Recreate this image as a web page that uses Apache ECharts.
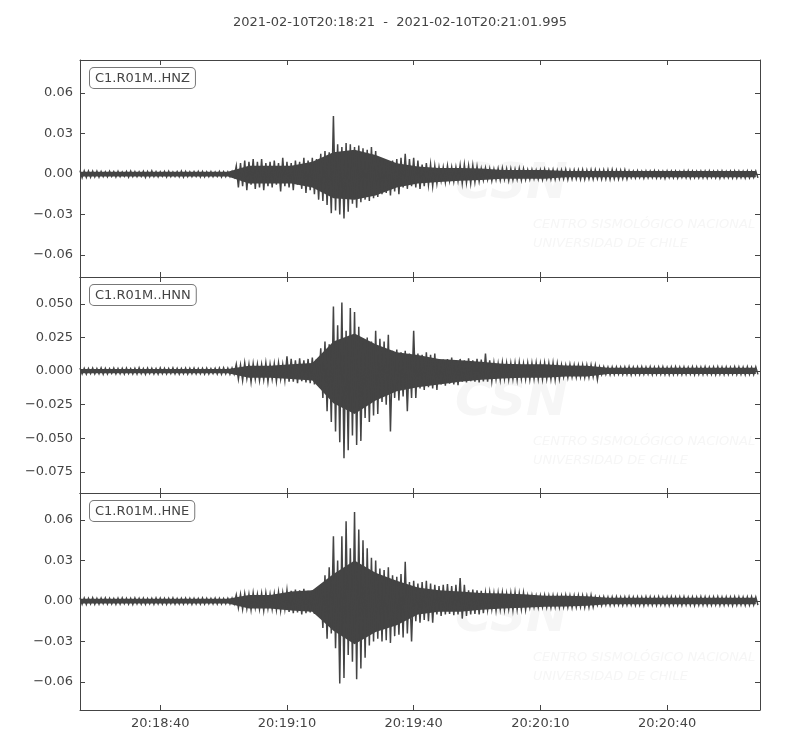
<!DOCTYPE html>
<html>
<head>
<meta charset="utf-8">
<script src="https://cdn.jsdelivr.net/npm/echarts@6/dist/echarts.min.js"></script>
<style>
  html, body { margin: 0; padding: 0; background: #fff; }
  #chart { width: 800px; height: 750px; }
</style>
</head>
<body>
<div id="chart"></div>
<script>
// trace start 20:18:21; peak envelope one sample per second, dense core every 5 s
// all amplitudes in units of 1e-3
var START_LABEL = "2021-02-10T20:18:21";
var END_LABEL = "2021-02-10T20:21:01.995";
var START_SEC = 20 * 3600 + 18 * 60 + 21;
var DURATION = 160.995;

var channels = ["C1.R01M..HNZ", "C1.R01M..HNN", "C1.R01M..HNE"];
var xTickSeconds = [19, 49, 79, 109, 139];

var yTicksZ = [-0.06, -0.03, 0, 0.03, 0.06];
var yTicksN = [-0.075, -0.05, -0.025, 0, 0.025, 0.05];
var yTicksE = [-0.06, -0.03, 0, 0.03, 0.06];
var yRangeZ = [-0.0763, 0.0844];
var yRangeN = [-0.0908, 0.070];
var yRangeE = [-0.0807, 0.080];

var upperZ = [2.5,2.3,2.2,2.0,2.0,
  1.8,1.6,2.0,1.7,1.9,1.5,1.8,2.1,1.7,1.6,1.9,1.8,2.2,1.7,1.6,1.8,1.9,1.5,1.7,2.0,1.8,1.6,1.7,1.9,1.8,1.6,1.7,1.5,1.8,1.7,1.6,1.9,
  6, 8,10,9,11,9, 11,8,9,10,8,12,9,8,10,9, 12,10,12,11, 15,17,16, 43, 22,20,23, 22,20,21, 19,18,20,17,
  10,11,9,10,11, 12,15,11,12,10, 7,8,7,6, 5,5,6,5,5, 6.5,7,6,6.5,5.5,
  4,4.5,4,3.5,4,4.5,3.8,4,3.5,4.2,3.8,
  3,3.2,2.8,3,3.4,2.9,3.1,2.8,3,3.3,2.7,3,2.9,3.2,2.8,3,3.1,2.7,2.9,3,3.2,2.8,2.7,3,
  2.2,2,2.3,1.9,2.1,2,2.4,2,1.9,2.2,2.1,2,1.8,2.2,2.3,2,1.9,2.1,2,2.2,1.9,2,2.1,1.8,2,2.2,2,1.9,2.1,2,2.1];
var lowerZ = [-2.8,-2.5,-2.4,-2.2,-2.3,
  -1.9,-2.1,-1.8,-2.2,-2.0,-1.7,-2.3,-1.9,-2.0,-1.8,-2.4,-2.0,-1.9,-2.1,-1.7,-2.2,-2.0,-1.8,-2.1,-2.3,-1.9,-2.0,-1.8,-2.2,-2.1,-1.9,-2.0,-1.8,-2.2,-2.0,-1.9,-2.1,
  -10, -9,-12,-8,-11,-10, -12,-9,-10,-8,-13,-9,-10,-12,-8,-11, -14,-12,-15,-19, -20,-23,-29, -27, -30,-33,-28, -22,-25,-21, -19,-20,-18,-17,
  -15,-14,-16,-13,-15, -10,-11,-9,-10,-11, -9,-8,-9,-7, -5,-6,-5,-5.5,-5, -7,-6.5,-7,-6,-5.5,
  -4.5,-4,-5,-4.2,-4.5,-4,-4.8,-4.3,-4,-4.5,-4.2,
  -4,-3.6,-3.8,-4.2,-3.5,-3.9,-4,-3.6,-3.7,-4.1,-3.8,-3.5,-3.9,-4,-3.6,-3.8,-3.5,-3.9,-3.7,-4,-3.6,-3.8,-3.4,-3.7,
  -2.8,-3,-2.7,-3.1,-2.9,-2.6,-3,-2.8,-3.2,-2.7,-2.9,-3,-2.6,-2.8,-3.1,-2.7,-2.9,-2.8,-3,-2.6,-2.9,-3.1,-2.7,-2.8,-3,-2.9,-2.7,-3,-2.8,-2.6,-2.9];

var upperN = [2.2,2,1.8,2.1,1.9,2.3,2,1.7,2.1,1.9,2,2.2,1.8,2,2.4,1.9,2.1,2,1.8,2.2,2,1.9,2.3,2,1.8,2.1,2,2.2,1.9,2,2.1,1.8,2,2.2,2.4,2.1,2.3,
  5,4.5,6,5,5.5,5,4.8,6,5,5.5,6,5, 11, 9,8,9.5,8,9,10,9, 17, 22,20, 48, 34, 51, 30, 47, 44, 33, 24,25,22, 30, 24,22, 27,
  15,16,14,15,13, 30, 13,12,14,12,13, 9,8.5,9,10,8, 9,8,9.5,8,9,8.5,13,8,
  6,5.5,6.5,6,5.8,6,6.5,5.5,6,5.8,6.2,5.5,6,5.7,6,5.5,
  4.5,4.2,4.8,4.5,4.3,4.6,4.4,4.5,4.2,
  3,3.2,2.8,3,3.1,2.9,3,3.3,2.8,3,3.1,2.9,3.2,2.8,3,3.1,2.7,3,3.2,2.9,3,2.8,3.1,3,2.9,3.2,2.8,3,3.1,2.9,3,2.8,3.2,3,2.9,3.1,2.8,3];
var lowerN = [-2.1,-2.3,-1.9,-2.2,-2,-2.4,-2.1,-1.8,-2.2,-2,-2.3,-1.9,-2.1,-2.2,-2,-2.4,-1.9,-2.1,-2.3,-2,-2.2,-1.8,-2.1,-2.3,-2,-2.2,-1.9,-2.1,-2,-2.3,-2.1,-1.9,-2.2,-2.4,-2.1,-2.3,-2.2,
  -6,-7,-5.5,-8,-6,-7,-6.5,-8,-6,-7.5,-6,-7, -8, -8,-9,-7.5,-8.5,-9,-10,-11, -20, -30,-38, -45, -53, -65, -59, -48, -55, -52, -35,-38,-33, -32, -23,-25, -45,
  -20,-22,-19,-30,-20, -20, -13,-14,-12,-13,-14, -10,-11,-9.5,-10,-10.5, -8,-8.5,-7.5,-8,-8.5,-7.8,-8,-7.5,
  -6,-6.5,-5.8,-6.2,-6,-6.5,-5.7,-6,-6.3,-5.8,-6,-6.2,-5.8,-6,-6.5,-5.9,
  -4.5,-4.8,-4.3,-4.6,-4.4,-4.7,-4.5,-4.3,-6.5,
  -2.6,-2.4,-2.7,-2.5,-2.3,-2.6,-2.5,-2.8,-2.4,-2.6,-2.5,-2.3,-2.7,-2.5,-2.4,-2.6,-2.8,-2.5,-2.4,-2.6,-2.5,-2.3,-2.7,-2.5,-2.6,-2.4,-2.5,-2.7,-2.4,-2.6,-2.5,-2.3,-2.6,-2.5,-2.7,-2.4,-2.6,-2.5];

var upperE = [2.4,2.2,2,2.3,1.9,2.1,2.2,2,1.8,2.1,2.3,2,1.9,2.2,2,2.1,1.8,2,2.3,2.1,1.9,2,2.2,1.8,2,2.1,1.9,2,1.8,2.2,2,1.9,2.1,2,1.8,2,2.1,
  4.5,5,5.5,5,6,5,5.5,6,5,5.5,6.5,6, 8,7.5,8.5,8,9,7.5,8,9, 12,19, 25, 48, 30, 48, 59, 39, 66, 53, 45, 39, 32,30, 24,23,25, 19,18,20, 29,
  14,15,13,14,15,13, 12,11,12,12.5,11,12, 17,12, 8,8.5,8,7.5,
  6,6.5,5.8,6,6.2,5.5,6,6.5,5.8,6,
  4,4.2,3.8,4,4.3,3.9,4.1,4,3.8,4.2,4,3.9,4.1,4,3.8,4.2,
  3,2.8,3.1,2.9,3,3.2,2.8,3,3.1,2.9,3,2.8,3.2,3,2.9,3.1,2.8,3,3.1,2.9,3,3.2,2.8,3,2.9,3.1,3,2.8,3,3.1,2.9,3,2.8,3.1,3,2.9,3,3.1,2.9];
var lowerE = [-2.3,-2.5,-2.1,-2.4,-2.2,-2,-2.3,-2.1,-2.4,-2.2,-2,-2.3,-2.5,-2.1,-2.2,-2.4,-2,-2.3,-2.1,-2.2,-2.4,-2,-2.3,-2.1,-2.2,-2,-2.4,-2.1,-2.3,-2.2,-2,-2.1,-2.3,-2.2,-2,-2.1,-2.2,
  -5,-6,-5.5,-6.5,-5,-6,-7,-5.5,-6,-6.5,-7,-6, -8,-9,-8.5,-10,-9,-8.5,-9.5,-9, -20,-28, -24, -35, -61, -57, -40, -45, -58, -50, -42, -33, -30,-28, -30,-29,-31, -26,-25,-27, -24,
  -30,-15,-16,-14,-15,-16, -10,-11,-10,-9.5,-10.5,-10, -13,-11, -10,-9.5,-10,-9,
  -6.5,-6,-7,-6.2,-6.5,-6,-6.8,-6.3,-6,-6.5,
  -4.7,-4.5,-4.8,-4.4,-4.6,-4.9,-4.5,-4.7,-4.4,-4.6,-4.8,-4.5,-4.3,-4.6,-4.7,-4.4,
  -3,-3.2,-2.9,-3.1,-3,-2.8,-3.2,-3,-2.9,-3.1,-3,-3.2,-2.8,-3,-3.1,-2.9,-3,-3.2,-2.9,-3,-3.1,-2.8,-3,-3.2,-3,-2.9,-3.1,-3,-2.8,-3.1,-3,-2.9,-3.2,-3,-2.9,-3.1,-3,-2.8,-3];

// solid core of the trace, every 5 s from t = 0 to 160
var coreUpZ = [1.6,1.6,1.6,1.6,1.6,1.6,1.6,1.6, 6,6,6,9,16,18,14,8,5.5,4.5,4.5,4,3,3,3, 2.2,2.2,2.2,2.2,2.2,2.2,2.2,2.2,2.2,2.2];
var coreLoZ = [-1.9,-1.9,-1.9,-1.9,-1.9,-1.9,-1.9,-1.9, -7,-7,-7,-10,-18,-19,-16,-10,-7,-6,-5,-4.5,-3.5,-3.5,-3.5, -2.5,-2.5,-2.5,-2.5,-2.5,-2.5,-2.5,-2.5,-2.5,-2.5];
var coreUpN = [1.6,1.6,1.6,1.6,1.6,1.6,1.6,1.6, 4,4,5,6,22,28,20,14,12,9,8,7,5.5,5,5,4.2,4, 2.5,2.5,2.5,2.5,2.5,2.5,2.5,2.5];
var coreLoN = [-1.7,-1.7,-1.7,-1.7,-1.7,-1.7,-1.7,-1.7, -5,-5,-6,-7,-24,-32,-22,-15,-12,-10,-8,-6.5,-5.5,-5,-5,-4,-4, -2.2,-2.2,-2.2,-2.2,-2.2,-2.2,-2.2,-2.2];
var coreUpE = [1.7,1.7,1.7,1.7,1.7,1.7,1.7,1.7, 4.5,4.5,7,8,20,30,21,15,10,8,7,6,5.5,5,4,4,3.5, 2.5,2.5,2.5,2.5,2.5,2.5,2.5,2.5];
var coreLoE = [-1.9,-1.9,-1.9,-1.9,-1.9,-1.9,-1.9,-1.9, -5.5,-5.5,-7,-8,-22,-32,-23,-18,-10,-8,-8,-6.5,-5.5,-5,-4.2,-4,-3.5, -2.4,-2.4,-2.4,-2.4,-2.4,-2.4,-2.4,-2.4];

var panels = [
  { name: channels[0], up: upperZ, lo: lowerZ, cu: coreUpZ, cl: coreLoZ, ticks: yTicksZ, range: yRangeZ, dec: 2 },
  { name: channels[1], up: upperN, lo: lowerN, cu: coreUpN, cl: coreLoN, ticks: yTicksN, range: yRangeN, dec: 3 },
  { name: channels[2], up: upperE, lo: lowerE, cu: coreUpE, cl: coreLoE, ticks: yTicksE, range: yRangeE, dec: 2 }
];

var FONT = "DejaVu Sans";
var INK = "#444";
var WATER = "#f6f6f6";
var gridTops = [60, 277, 493];
var gridHeights = [217, 216, 217];

function pad(n) { return (n < 10 ? "0" : "") + n; }
function timeLabel(v) {
  var s = Math.round(START_SEC + v);
  return pad(Math.floor(s / 3600)) + ":" + pad(Math.floor(s / 60) % 60) + ":" + pad(s % 60);
}
function yLabel(dec) {
  return function (v) { return v.toFixed(dec).replace("-", "\u2212"); };
}

// peaks: upper on whole seconds, lower half a second later
function zigzag(up, lo) {
  var pts = [];
  for (var i = 0; i < up.length; i++) {
    pts.push([i, up[i] * 1e-3]);
    pts.push([i + 0.5, lo[i] * 1e-3]);
  }
  return pts;
}
function core(vals) {
  return vals.map(function (v, i) { return [i * 5, v * 1e-3]; });
}

var grid = [], xAxis = [], yAxis = [], series = [], graphic = [];

panels.forEach(function (p, i) {
  grid.push({ left: 80, width: 680, top: gridTops[i], height: gridHeights[i] });

  var xBase = {
    gridIndex: i, type: "value", min: 0, max: DURATION,
    axisLine: { show: true, onZero: false, lineStyle: { color: INK, width: 1 } },
    axisTick: { show: true, inside: true, length: 5, customValues: xTickSeconds, lineStyle: { color: INK } },
    splitLine: { show: false }
  };
  xAxis.push(Object.assign({}, xBase, {
    position: "bottom",
    axisLabel: { show: i === 2, customValues: xTickSeconds, formatter: timeLabel,
      color: INK, fontFamily: FONT, fontSize: 13, margin: 7 }
  }));
  xAxis.push(Object.assign({}, xBase, { position: "top", axisLabel: { show: false } }));

  var yBase = {
    gridIndex: i, type: "value", min: p.range[0], max: p.range[1],
    axisLine: { show: true, onZero: false, lineStyle: { color: INK, width: 1 } },
    axisTick: { show: true, inside: true, length: 5, customValues: p.ticks, lineStyle: { color: INK } },
    splitLine: { show: false }
  };
  yAxis.push(Object.assign({}, yBase, {
    position: "left",
    axisLabel: { customValues: p.ticks, formatter: yLabel(p.dec),
      color: INK, fontFamily: FONT, fontSize: 13, margin: 7 }
  }));
  yAxis.push(Object.assign({}, yBase, { position: "right", axisLabel: { show: false } }));

  [core(p.cu), core(p.cl)].forEach(function (pts) {
    series.push({
      type: "line", xAxisIndex: i * 2, yAxisIndex: i * 2,
      data: pts, showSymbol: false, symbol: "none",
      lineStyle: { width: 0, color: INK },
      areaStyle: { color: INK, opacity: 1, origin: 0 },
      z: 3, animation: false
    });
  });
  series.push({
    type: "line", xAxisIndex: i * 2, yAxisIndex: i * 2,
    data: zigzag(p.up, p.lo), showSymbol: false, symbol: "none",
    lineStyle: { color: INK, width: 1.5, join: "miter" },
    z: 4, animation: false
  });

  // channel label box
  graphic.push({
    type: "text", left: 89, top: gridTops[i] + 7, z: 10,
    style: {
      text: p.name, fill: INK, font: "13px " + FONT,
      backgroundColor: "#fff", borderColor: "#777", borderWidth: 1, borderRadius: 4,
      padding: [4, 5, 3, 5]
    }
  });

  // faint watermark
  var wt = gridTops[i];
  graphic.push({
    type: "text", left: 455, top: wt + 100, z: 0, silent: true,
    style: { text: "CSN", fill: WATER, font: "italic bold 50px " + FONT }
  });
  graphic.push({
    type: "text", left: 533, top: wt + 155, z: 0, silent: true,
    style: { text: "CENTRO SISMOL\u00d3GICO NACIONAL\nUNIVERSIDAD DE CHILE", fill: WATER,
      font: "italic 13px " + FONT, lineHeight: 19 }
  });
});

var chart = echarts.init(document.getElementById("chart"), null, { renderer: "canvas" });
chart.setOption({
  animation: false,
  backgroundColor: "#fff",
  title: {
    text: START_LABEL + "  -  " + END_LABEL,
    left: "center", top: 11,
    textStyle: { color: INK, fontFamily: FONT, fontSize: 13, fontWeight: "normal" }
  },
  grid: grid,
  xAxis: xAxis,
  yAxis: yAxis,
  series: series,
  graphic: graphic
});
</script>
</body>
</html>
